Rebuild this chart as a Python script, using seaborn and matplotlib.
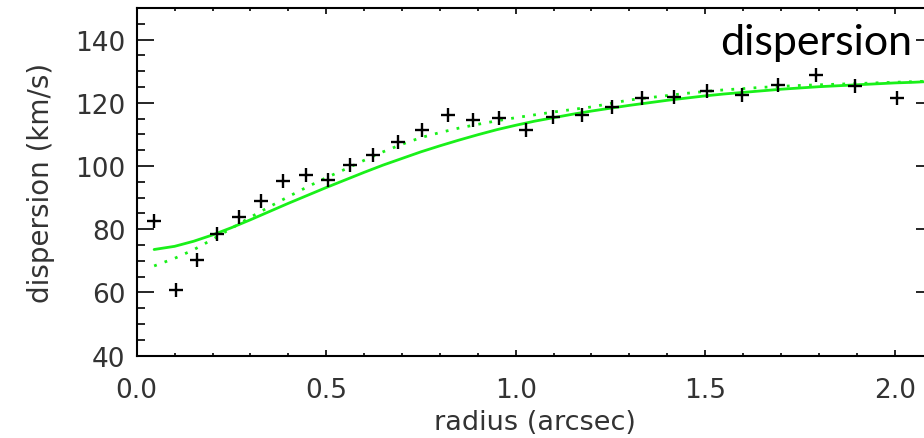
import numpy as np
import pandas as pd
import matplotlib
matplotlib.use("Agg")
import matplotlib.pyplot as plt
from matplotlib.ticker import MultipleLocator
import seaborn as sns

# Measured velocity dispersion profile
radius = [0.046, 0.103, 0.158, 0.213, 0.270, 0.328, 0.387, 0.446, 0.506, 0.563,
          0.624, 0.690, 0.754, 0.821, 0.888, 0.957, 1.027, 1.099, 1.176, 1.255,
          1.334, 1.418, 1.506, 1.598, 1.693, 1.792, 1.895, 2.005]
dispersion = [82.6, 60.8, 70.2, 78.6, 83.9, 88.9, 95.2, 97.1, 95.6, 100.2,
              103.4, 107.7, 111.5, 116.1, 114.7, 115.1, 111.4, 115.5, 116.0, 118.6,
              121.4, 121.9, 123.7, 122.4, 125.6, 128.9, 125.3, 121.4]

# Model curves (solid and dotted)
model_r = [0.046, 0.10, 0.15, 0.20, 0.25, 0.30, 0.35, 0.40, 0.45, 0.50,
           0.55, 0.60, 0.65, 0.70, 0.75, 0.80, 0.85, 0.90, 0.95, 1.00,
           1.05, 1.10, 1.15, 1.20, 1.25, 1.30, 1.35, 1.40, 1.45, 1.50,
           1.55, 1.60, 1.65, 1.70, 1.75, 1.80, 1.85, 1.90, 1.95, 2.00,
           2.05, 2.10]
model_solid = [73.6, 74.6, 76.2, 78.2, 80.5, 83.0, 85.6, 88.2, 90.7, 93.2,
               95.6, 98.0, 100.3, 102.4, 104.5, 106.4, 108.2, 109.9, 111.5, 112.9,
               114.2, 115.3, 116.4, 117.4, 118.3, 119.2, 120.0, 120.8, 121.5, 122.2,
               122.8, 123.3, 123.8, 124.3, 124.7, 125.1, 125.4, 125.7, 126.0, 126.3,
               126.5, 126.8]
model_dotted = [68.4, 70.8, 73.5, 76.8, 80.3, 83.8, 87.1, 90.3, 93.4, 96.3,
                99.0, 101.8, 104.5, 106.9, 109.0, 110.6, 112.0, 113.2, 114.3, 115.3,
                116.2, 117.1, 117.9, 118.7, 119.8, 120.9, 121.6, 122.3, 123.0, 123.6,
                124.1, 124.5, 124.9, 125.2, 125.5, 125.7, 125.9, 126.1, 126.3, 126.5,
                126.7, 126.9]

xticks = [0.0, 0.5, 1.0, 1.5, 2.0]
yticks = [40, 60, 80, 100, 120, 140]

sns.set_style("ticks")
plt.rcParams["font.family"] = ["DejaVu Sans"]

W, H = 924, 439
fig = plt.figure(figsize=(W / 100, H / 100), dpi=100)
fig.patch.set_facecolor("white")

left_px, bottom_px, top_px = 136.7, 356.7, 9.0
x_scale = 379.0  # pixels per arcsec
ax = fig.add_axes([left_px / W, 1 - bottom_px / H,
                   (2.1 * x_scale) / W, (bottom_px - top_px) / H])

df_models = pd.DataFrame({"r": model_r, "solid": model_solid, "dotted": model_dotted})
df_data = pd.DataFrame({"r": radius, "sigma": dispersion})

green = "#19f019"
sns.lineplot(data=df_models, x="r", y="solid", ax=ax, color=green, lw=2.0,
             sort=False, estimator=None)
sns.lineplot(data=df_models, x="r", y="dotted", ax=ax, color=green, lw=2.0,
             sort=False, estimator=None, linestyle=(0, (1, 3)))
sns.scatterplot(data=df_data, x="r", y="sigma", ax=ax, marker="+", s=115,
                color="black", linewidth=1.7, zorder=5)

ax.set_xlim(0, 2.1)
ax.set_ylim(40, 150)
ax.set_xticks(xticks)
ax.set_xticklabels([f"{t:.1f}" for t in xticks])
ax.set_yticks(yticks)
ax.xaxis.set_minor_locator(MultipleLocator(0.1))
ax.yaxis.set_minor_locator(MultipleLocator(5))

text_color = "#333333"
ax.tick_params(axis="y", which="major", direction="in", length=12, width=1.4,
               left=True, right=True, labelsize=19, labelcolor=text_color, pad=8)
ax.tick_params(axis="y", which="minor", direction="in", length=6, width=1.4,
               left=True, right=True)
ax.tick_params(axis="x", which="major", direction="in", length=4.5, width=1.4,
               bottom=True, top=True, labelsize=19, labelcolor=text_color, pad=15)
ax.tick_params(axis="x", which="minor", direction="in", length=2.3, width=1.4,
               bottom=True, top=True)
for sp in ax.spines.values():
    sp.set_linewidth(1.5)
    sp.set_color("black")

ax.set_xlabel("radius (arcsec)", fontsize=19.5, color=text_color)
ax.set_ylabel("dispersion (km/s)", fontsize=20, color=text_color)
ax.xaxis.set_label_coords(0.5, -0.153)
ax.yaxis.set_label_coords(-0.103, 0.5)

fig.text(912 / W, 1 - 55 / H, "dispersion", family=["Lato", "DejaVu Sans"],
         fontsize=31, color="black", ha="right", va="baseline")

fig.savefig("out.png", dpi=100, facecolor="white")
